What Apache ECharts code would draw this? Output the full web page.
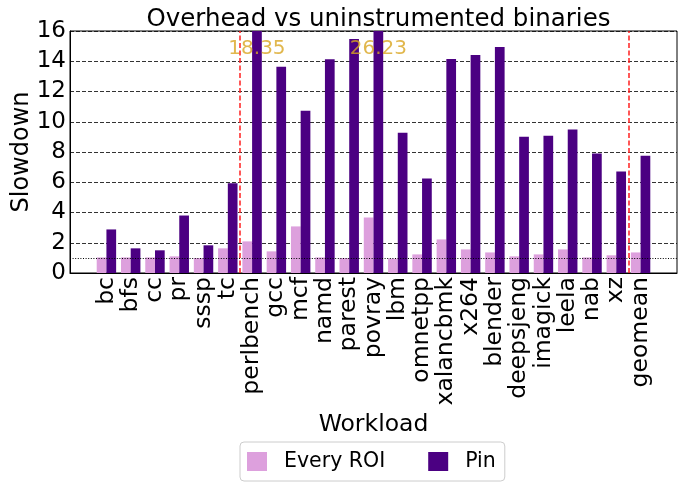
<!DOCTYPE html>
<html>
<head>
<meta charset="utf-8">
<script src="https://cdn.jsdelivr.net/npm/echarts@6/dist/echarts.min.js"></script>
<style>
  html, body { margin: 0; padding: 0; background: #fff; }
  #chart { width: 686px; height: 483px; }
</style>
</head>
<body>
<div id="chart"></div>
<script>
// workloads, in three groups split by red dashed lines
const graphWorkloads = ['bc', 'bfs', 'cc', 'pr', 'sssp', 'tc'];
const specWorkloads = ['perlbench', 'gcc', 'mcf', 'namd', 'parest', 'povray', 'lbm', 'omnetpp',
  'xalancbmk', 'x264', 'blender', 'deepsjeng', 'imagick', 'leela', 'nab', 'xz'];
const summary = ['geomean'];
const categories = graphWorkloads.concat(specWorkloads, summary);

const everyRoi = [1.03, 1.03, 1.03, 1.10, 0.99, 1.63,
  2.09, 1.43, 3.08, 1.03, 0.99, 3.67, 0.95, 1.23, 2.22, 1.56, 1.36, 1.10, 1.23, 1.56, 1.03, 1.17,
  1.36];
const pin = [2.88, 1.63, 1.50, 3.80, 1.83, 5.93,
  18.35, 13.63, 10.73, 14.13, 15.47, 26.23, 9.27, 6.24, 14.15, 14.42, 14.95, 9.01, 9.08, 9.48, 7.90, 6.71,
  7.76];

const yTicks = [0, 2, 4, 6, 8, 10, 12, 14, 16];
const yMax = 16;
const baseline = 1;

const font = 'DejaVu Sans';
const n = categories.length;

// empty band on each side so the first/last bars sit 1.5 slots in
const padded = [''].concat(categories, ['']);
const pad = arr => [null].concat(arr, [null]);

// group separators halfway between the groups
const sep1 = graphWorkloads.length - 0.5;
const sep2 = graphWorkloads.length + specWorkloads.length - 0.5;

// bars that run off the top get their value written near the top
const overflow = [];
pin.forEach((v, i) => {
  if (v > yMax) overflow.push([i + 0.2, yMax - 1.2, v]);
});

const chart = echarts.init(document.getElementById('chart'));

const option = {
  animation: false,
  textStyle: { fontFamily: font },
  title: {
    text: 'Overhead vs uninstrumented binaries',
    left: 373.5,
    textAlign: 'center',
    top: 2,
    textStyle: { fontSize: 24.5, fontWeight: 'normal', color: '#000', fontFamily: font }
  },
  legend: {
    data: ['Every ROI', 'Pin'],
    left: 240,
    top: 442,
    icon: 'rect',
    itemWidth: 20,
    itemHeight: 19,
    itemGap: 43,
    padding: [9, 9, 9, 7],
    borderColor: '#ccc',
    borderWidth: 1,
    borderRadius: 4,
    textStyle: { fontSize: 20.5, color: '#000', fontFamily: font, padding: [0, 0, 0, 12], lineHeight: 19 }
  },
  grid: {
    left: 70, right: 9, top: 31, bottom: 210,
    outerBoundsMode: 'none',
    containLabel: false,
    show: true, borderColor: '#000', borderWidth: 1
  },
  xAxis: [
    {
      type: 'category',
      data: padded,
      name: 'Workload',
      nameLocation: 'middle',
      nameGap: 138,
      nameTextStyle: { fontSize: 23.5, color: '#000', fontFamily: font },
      axisTick: { show: false },
      axisLine: { lineStyle: { color: '#000', width: 1 } },
      axisLabel: { rotate: 90, interval: 0, fontSize: 23.5, color: '#000', margin: 4, fontFamily: font }
    },
    {
      type: 'value',
      min: -1.5,
      max: n + 0.5,
      show: false
    }
  ],
  yAxis: {
    type: 'value',
    min: yTicks[0],
    max: yTicks[yTicks.length - 1],
    interval: yTicks[1] - yTicks[0],
    name: 'Slowdown',
    nameLocation: 'middle',
    nameRotate: 90,
    nameGap: 36,
    nameMoveOverlap: false,
    nameTextStyle: { fontSize: 24, color: '#000', fontFamily: font },
    axisTick: { show: false },
    axisLine: { show: true, onZero: false, lineStyle: { color: '#000', width: 1 } },
    axisLabel: { fontSize: 23, color: '#000', margin: 4, fontFamily: font },
    splitLine: { lineStyle: { color: '#000', type: [4, 2], width: 1, opacity: 0.8 } }
  },
  series: [
    {
      name: 'Every ROI',
      type: 'bar',
      data: pad(everyRoi),
      barWidth: '40%',
      barGap: '0%',
      itemStyle: { color: '#DDA0DD' }
    },
    {
      name: 'Pin',
      type: 'bar',
      data: pad(pin),
      barWidth: '40%',
      barGap: '0%',
      clip: true,
      itemStyle: { color: '#4B0082' },
      markLine: {
        silent: true,
        symbol: 'none',
        label: { show: false },
        lineStyle: { color: '#000', type: [1, 1.6], width: 1 },
        data: [{ yAxis: baseline }]
      }
    },
    {
      name: 'annotations',
      type: 'scatter',
      xAxisIndex: 1,
      data: overflow,
      symbolSize: 0,
      label: {
        show: true,
        position: 'inside',
        formatter: p => p.value[2].toFixed(2),
        fontSize: 20,
        color: '#DAA520',
        fontFamily: font
      },
      markLine: {
        silent: true,
        symbol: 'none',
        label: { show: false },
        lineStyle: { color: '#FF2020', type: [5, 2.5], width: 1.5 },
        data: [{ xAxis: sep1 }, { xAxis: sep2 }]
      }
    }
  ]
};

chart.setOption(option);
</script>
</body>
</html>
